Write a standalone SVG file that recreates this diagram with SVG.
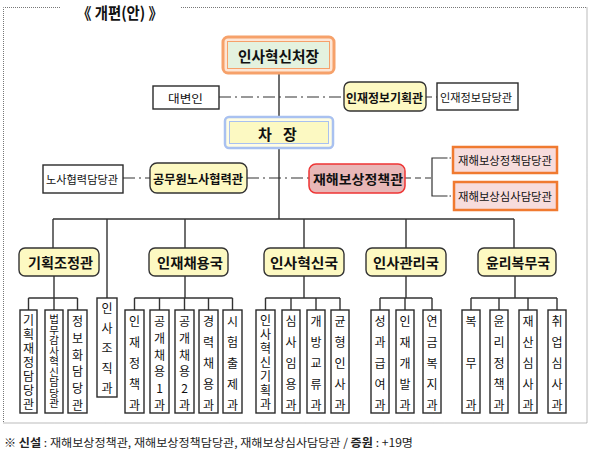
<svg xmlns="http://www.w3.org/2000/svg" width="590" height="452" viewBox="0 0 590 452">
<style>
.t{font-family:"Noto Sans CJK KR","Noto Sans",sans-serif;fill:#111;dominant-baseline:central}
.b{font-weight:bold}
.ln{stroke:#333;stroke-width:1.4;fill:none}
.dd{stroke:#333;stroke-width:1.2;stroke-dasharray:12 4 2 4;fill:none}
.ds{stroke:#333;stroke-width:1.2;stroke-dasharray:6 4;fill:none}
.dt{stroke:#333;stroke-width:1.2;stroke-dasharray:1.5 2;fill:none}
.wb{fill:#fff;stroke:#2a2a2a;stroke-width:1.4}
.yb{fill:#fdf9c2;stroke:#333;stroke-width:1.4}
.ob{fill:#f7dcdc;stroke:#f07a30;stroke-width:2.5}
.v{font-size:12px}
.vt{writing-mode:vertical-rl;text-orientation:upright}
.frame{fill:none;stroke:#777;stroke-width:1;stroke-dasharray:1 1}
</style>
<path class="frame" d="M60,7.5 H3.5 V423 H587 V7.5 H180"/>
<text class="t b" x="77" y="12" font-size="16" textLength="86" lengthAdjust="spacingAndGlyphs">《 개편(안) 》</text>

<g id="connectors">
<path class="ln" d="M279,73 V117 M279,148 V219 M53,219 H514 M53,219 V248 M107,219 V298 M185,219 V248 M304,219 V248 M406,219 V248 M514,219 V248"/>
<path class="ln" d="M54,276 V298 M28.5,298 H77.5 M28.5,298 V310 M54,298 V310 M77.5,298 V310"/>
<path class="ln" d="M185,276 V298 M134.5,298 H232.5 M134.5,298 V310 M159.5,298 V310 M184.5,298 V310 M208.5,298 V310 M232.5,298 V310"/>
<path class="ln" d="M304,276 V298 M265.5,298 H340 M265.5,298 V310 M291,298 V310 M316,298 V310 M340,298 V310"/>
<path class="ln" d="M406,276 V298 M380,298 H432 M380,298 V310 M405,298 V310 M432,298 V310"/>
<path class="ln" d="M515,276 V298 M471,298 H557 M471,298 V310 M499,298 V310 M528,298 V310 M557,298 V310"/>
<path class="dd" d="M219,97 H344"/>
<path class="ds" d="M426,97 H437"/>
<path class="dd" d="M123,178 H150"/>
<path class="dd" d="M247,178 H309"/>
<path class="ds" d="M405,178 H432"/>
<path class="ln" style="stroke-width:1.2" d="M446,158 H432 V196 H446"/>
<path class="dt" d="M446,158 H453 M446,196 H454"/>
</g>

<g id="chief">
<rect x="223" y="37" width="111" height="36" rx="5" fill="#fde6d6" stroke="#f6a16a" stroke-width="3"/>
<rect x="227.5" y="41.5" width="102" height="27" fill="#e4f2df" stroke="#f6a16a" stroke-width="1"/>
<text class="t b" x="238" y="55" font-size="15" textLength="81" lengthAdjust="spacingAndGlyphs">인사혁신처장</text>
</g>
<g id="vice">
<rect x="225" y="117" width="108" height="31" rx="4" fill="#fffde4" stroke="#a9c1f0" stroke-width="2.5"/>
<rect x="229.5" y="121.5" width="99" height="22" fill="#fcf9c2" stroke="#a9c1f0" stroke-width="1"/>
<text class="t b" y="133" font-size="15"><tspan x="258">차</tspan><tspan x="283">장</tspan></text>
</g>
<g id="spokesman">
<rect class="wb" x="153" y="86" width="66" height="23"/>
<text class="t" x="168" y="98" font-size="11.5" textLength="35" lengthAdjust="spacingAndGlyphs">대변인</text>
</g>
<g id="infoplan">
<rect class="yb" x="344" y="82" width="82" height="29" rx="6"/>
<text class="t b" x="346" y="97" font-size="12.5" textLength="77" lengthAdjust="spacingAndGlyphs">인재정보기획관</text>
</g>
<g id="infoofficer">
<rect class="wb" x="437" y="83" width="81" height="27"/>
<text class="t" x="440" y="97" font-size="11" textLength="72" lengthAdjust="spacingAndGlyphs">인재정보담당관</text>
</g>
<g id="laborofficer">
<rect class="wb" x="43" y="165" width="80" height="28"/>
<text class="t" x="46" y="179" font-size="11" textLength="72" lengthAdjust="spacingAndGlyphs">노사협력담당관</text>
</g>
<g id="labor">
<rect class="yb" x="150" y="163" width="97" height="30" rx="7"/>
<text class="t b" x="153" y="178" font-size="12.5" textLength="90" lengthAdjust="spacingAndGlyphs">공무원노사협력관</text>
</g>
<g id="compensation">
<rect x="309" y="164" width="96" height="29" rx="7" fill="#e8b7b7" stroke="#ee3535" stroke-width="1.5"/>
<text class="t b" x="313" y="178" font-size="13" textLength="90" lengthAdjust="spacingAndGlyphs">재해보상정책관</text>
</g>
<g id="comp-policy">
<rect class="ob" x="453" y="147" width="104" height="26"/>
<text class="t" x="458" y="160" font-size="11" textLength="94" lengthAdjust="spacingAndGlyphs">재해보상정책담당관</text>
</g>
<g id="comp-review">
<rect class="ob" x="454" y="182" width="103" height="28"/>
<text class="t" x="458" y="196" font-size="11" textLength="94" lengthAdjust="spacingAndGlyphs">재해보상심사담당관</text>
</g>

<g id="bureau-planning">
<rect class="yb" x="19" y="248" width="80" height="28" rx="6"/>
<text class="t b" x="28" y="262" font-size="13.5" textLength="65" lengthAdjust="spacingAndGlyphs">기획조정관</text>
</g>
<g id="bureau-recruit">
<rect class="yb" x="149" y="248" width="79" height="28" rx="6"/>
<text class="t b" x="157" y="262" font-size="13.5" textLength="66" lengthAdjust="spacingAndGlyphs">인재채용국</text>
</g>
<g id="bureau-innovation">
<rect class="yb" x="264" y="248" width="80" height="28" rx="6"/>
<text class="t b" x="270" y="262" font-size="13.5" textLength="68" lengthAdjust="spacingAndGlyphs">인사혁신국</text>
</g>
<g id="bureau-management">
<rect class="yb" x="366" y="248" width="80" height="28" rx="6"/>
<text class="t b" x="373" y="262" font-size="13.5" textLength="66" lengthAdjust="spacingAndGlyphs">인사관리국</text>
</g>
<g id="bureau-ethics">
<rect class="yb" x="478" y="248" width="78" height="28" rx="6"/>
<text class="t b" x="486" y="262" font-size="13.5" textLength="64" lengthAdjust="spacingAndGlyphs">윤리복무국</text>
</g>

<g id="d1"><rect class="wb" x="20" y="310" width="17" height="103"/>
<text class="t v vt" x="28.5" y="363" text-anchor="middle" letter-spacing="2">기획재정담당관</text></g>
<g id="d2"><rect class="wb" x="45" y="310" width="18" height="103"/>
<text class="t vt" x="54" y="361.5" font-size="10.5" text-anchor="middle">법무감사혁신담당관</text></g>
<g id="d3"><rect class="wb" x="68" y="310" width="19" height="103"/>
<text class="t v" text-anchor="middle"><tspan x="77.5" y="320">정</tspan><tspan x="77.5" y="337">보</tspan><tspan x="77.5" y="354">화</tspan><tspan x="77.5" y="370">담</tspan><tspan x="77.5" y="387">당</tspan><tspan x="77.5" y="404">관</tspan></text></g>
<g id="d4"><rect class="wb" x="97" y="298" width="20" height="99"/>
<text class="t v" text-anchor="middle"><tspan x="107" y="307">인</tspan><tspan x="107" y="327">사</tspan><tspan x="107" y="347">조</tspan><tspan x="107" y="367">직</tspan><tspan x="107" y="387">과</tspan></text></g>
<g id="d5"><rect class="wb" x="125" y="310" width="19" height="103"/>
<text class="t v" text-anchor="middle"><tspan x="134.5" y="320">인</tspan><tspan x="134.5" y="341">재</tspan><tspan x="134.5" y="362">정</tspan><tspan x="134.5" y="383">책</tspan><tspan x="134.5" y="404">과</tspan></text></g>
<g id="d6"><rect class="wb" x="150" y="310" width="19" height="103"/>
<text class="t v" text-anchor="middle"><tspan x="159.5" y="320">공</tspan><tspan x="159.5" y="337">개</tspan><tspan x="159.5" y="354">채</tspan><tspan x="159.5" y="370">용</tspan><tspan x="159.5" y="387">1</tspan><tspan x="159.5" y="404">과</tspan></text></g>
<g id="d7"><rect class="wb" x="175" y="310" width="19" height="103"/>
<text class="t v" text-anchor="middle"><tspan x="184.5" y="320">공</tspan><tspan x="184.5" y="337">개</tspan><tspan x="184.5" y="354">채</tspan><tspan x="184.5" y="370">용</tspan><tspan x="184.5" y="387">2</tspan><tspan x="184.5" y="404">과</tspan></text></g>
<g id="d8"><rect class="wb" x="199" y="310" width="19" height="103"/>
<text class="t v" text-anchor="middle"><tspan x="208.5" y="320">경</tspan><tspan x="208.5" y="341">력</tspan><tspan x="208.5" y="362">채</tspan><tspan x="208.5" y="383">용</tspan><tspan x="208.5" y="404">과</tspan></text></g>
<g id="d9"><rect class="wb" x="223" y="310" width="19" height="103"/>
<text class="t v" text-anchor="middle"><tspan x="232.5" y="320">시</tspan><tspan x="232.5" y="341">험</tspan><tspan x="232.5" y="362">출</tspan><tspan x="232.5" y="383">제</tspan><tspan x="232.5" y="404">과</tspan></text></g>
<g id="d10"><rect class="wb" x="256" y="310" width="19" height="103"/>
<text class="t v vt" x="265.5" y="363" text-anchor="middle" letter-spacing="2">인사혁신기획과</text></g>
<g id="d11"><rect class="wb" x="282" y="310" width="18" height="103"/>
<text class="t v" text-anchor="middle"><tspan x="291" y="320">심</tspan><tspan x="291" y="341">사</tspan><tspan x="291" y="362">임</tspan><tspan x="291" y="383">용</tspan><tspan x="291" y="404">과</tspan></text></g>
<g id="d12"><rect class="wb" x="307" y="310" width="18" height="103"/>
<text class="t v" text-anchor="middle"><tspan x="316" y="320">개</tspan><tspan x="316" y="341">방</tspan><tspan x="316" y="362">교</tspan><tspan x="316" y="383">류</tspan><tspan x="316" y="404">과</tspan></text></g>
<g id="d13"><rect class="wb" x="331" y="310" width="18" height="103"/>
<text class="t v" text-anchor="middle"><tspan x="340" y="320">균</tspan><tspan x="340" y="341">형</tspan><tspan x="340" y="362">인</tspan><tspan x="340" y="383">사</tspan><tspan x="340" y="404">과</tspan></text></g>
<g id="d14"><rect class="wb" x="371" y="310" width="18" height="103"/>
<text class="t v" text-anchor="middle"><tspan x="380" y="320">성</tspan><tspan x="380" y="341">과</tspan><tspan x="380" y="362">급</tspan><tspan x="380" y="383">여</tspan><tspan x="380" y="404">과</tspan></text></g>
<g id="d15"><rect class="wb" x="396" y="310" width="18" height="103"/>
<text class="t v" text-anchor="middle"><tspan x="405" y="320">인</tspan><tspan x="405" y="341">재</tspan><tspan x="405" y="362">개</tspan><tspan x="405" y="383">발</tspan><tspan x="405" y="404">과</tspan></text></g>
<g id="d16"><rect class="wb" x="423" y="310" width="18" height="103"/>
<text class="t v" text-anchor="middle"><tspan x="432" y="320">연</tspan><tspan x="432" y="341">금</tspan><tspan x="432" y="362">복</tspan><tspan x="432" y="383">지</tspan><tspan x="432" y="404">과</tspan></text></g>
<g id="d17"><rect class="wb" x="462" y="310" width="18" height="103"/>
<text class="t v" text-anchor="middle"><tspan x="471" y="320">복</tspan><tspan x="471" y="362">무</tspan><tspan x="471" y="404">과</tspan></text></g>
<g id="d18"><rect class="wb" x="490" y="310" width="18" height="103"/>
<text class="t v" text-anchor="middle"><tspan x="499" y="320">윤</tspan><tspan x="499" y="341">리</tspan><tspan x="499" y="362">정</tspan><tspan x="499" y="383">책</tspan><tspan x="499" y="404">과</tspan></text></g>
<g id="d19"><rect class="wb" x="519" y="310" width="18" height="103"/>
<text class="t v" text-anchor="middle"><tspan x="528" y="320">재</tspan><tspan x="528" y="341">산</tspan><tspan x="528" y="362">심</tspan><tspan x="528" y="383">사</tspan><tspan x="528" y="404">과</tspan></text></g>
<g id="d20"><rect class="wb" x="548" y="310" width="18" height="103"/>
<text class="t v" text-anchor="middle"><tspan x="557" y="320">취</tspan><tspan x="557" y="341">업</tspan><tspan x="557" y="362">심</tspan><tspan x="557" y="383">사</tspan><tspan x="557" y="404">과</tspan></text></g>

<text class="t" x="4" y="442" font-size="11.5" textLength="409" lengthAdjust="spacingAndGlyphs" style="fill:#222"><tspan class="b">※ 신설</tspan> : 재해보상정책관, 재해보상정책담당관, 재해보상심사담당관 / <tspan class="b">증원</tspan> : +19명</text>
</svg>
